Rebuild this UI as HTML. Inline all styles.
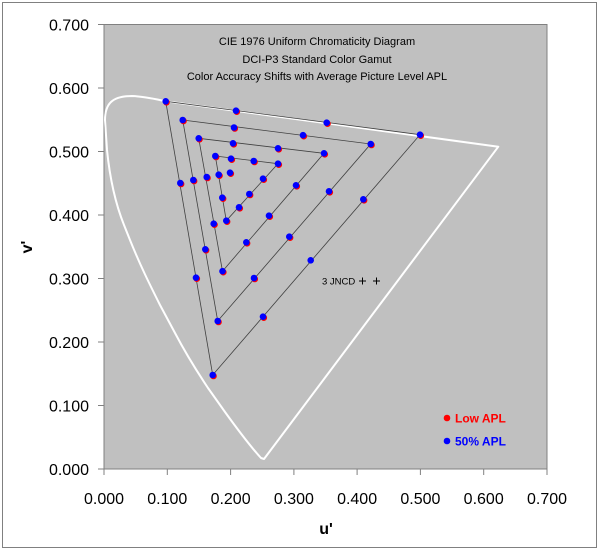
<!DOCTYPE html>
<html><head><meta charset="utf-8"><style>
html,body{margin:0;padding:0;background:#fff;}
svg{display:block;font-family:"Liberation Sans",Arial,sans-serif;}
</style></head><body>
<svg width="600" height="551" viewBox="0 0 600 551" xmlns="http://www.w3.org/2000/svg">
<rect x="0" y="0" width="600" height="551" fill="#fff"/>
<rect x="2.5" y="2.5" width="594" height="545" fill="none" stroke="#808080" stroke-width="1"/>
<rect x="104" y="24.5" width="443" height="444.5" fill="#c0c0c0" stroke="#808080" stroke-width="1"/>
<path d="M264,459 L498.3,146.7 L165.7,101.3 C155,99 145,96.5 132,96 C112,96 105,104 105,120 L107,150 C110,180 116,205 124,225 L130,240 C140,265 150,285 160,305 L175,333 C185,352 196,370 208,388 L225,412 C238,430 250,446 261,458 Z" fill="none" stroke="#fff" stroke-width="2" stroke-linejoin="round"/>
<g fill="none" stroke="#404040" stroke-width="0.8">
<polygon points="165.7,101.3 420,134.7 212.7,375"/>
<polygon points="182.7,120 370.7,144 217.7,321"/>
<polygon points="198.7,138.3 324,153.3 222.5,271.2"/>
<polygon points="215.3,156 278,163.7 226.3,220.7"/>
</g>
<g fill="#ff0000" transform="translate(0.8,1)">
<circle cx="165.7" cy="101.3" r="3.3"/><circle cx="420" cy="134.7" r="3.3"/><circle cx="212.7" cy="375" r="3.3"/>
<circle cx="236" cy="110.7" r="3.3"/><circle cx="326.7" cy="122.7" r="3.3"/><circle cx="180.3" cy="183" r="3.3"/><circle cx="196" cy="277.7" r="3.3"/><circle cx="363.3" cy="199.3" r="3.3"/><circle cx="263" cy="316.7" r="3.3"/>
<circle cx="182.7" cy="120" r="3.3"/><circle cx="370.7" cy="144" r="3.3"/><circle cx="217.7" cy="321" r="3.3"/>
<circle cx="234" cy="127.5" r="3.3"/><circle cx="303" cy="135.2" r="3.3"/><circle cx="193.3" cy="180" r="3.3"/><circle cx="205.3" cy="249.3" r="3.3"/><circle cx="329" cy="191.3" r="3.3"/><circle cx="289.3" cy="236.7" r="3.3"/><circle cx="254" cy="278" r="3.3"/>
<circle cx="198.7" cy="138.3" r="3.3"/><circle cx="324" cy="153.3" r="3.3"/><circle cx="222.5" cy="271.2" r="3.3"/>
<circle cx="233" cy="143.3" r="3.3"/><circle cx="278" cy="148.3" r="3.3"/><circle cx="206.7" cy="177" r="3.3"/><circle cx="213.7" cy="223.7" r="3.3"/><circle cx="296" cy="185.3" r="3.3"/><circle cx="269" cy="215.7" r="3.3"/><circle cx="246.3" cy="242.3" r="3.3"/>
<circle cx="215.3" cy="156" r="3.3"/><circle cx="278" cy="163.7" r="3.3"/><circle cx="226.3" cy="220.7" r="3.3"/>
<circle cx="231" cy="158.7" r="3.3"/><circle cx="253.7" cy="161" r="3.3"/><circle cx="218.7" cy="174.7" r="3.3"/><circle cx="222.3" cy="197.7" r="3.3"/><circle cx="263" cy="178.7" r="3.3"/><circle cx="249.3" cy="194" r="3.3"/><circle cx="239" cy="207.3" r="3.3"/>
<circle cx="230" cy="172.7" r="3.3"/>
</g>
<g fill="#0000ff">
<circle cx="165.7" cy="101.3" r="3.3"/><circle cx="420" cy="134.7" r="3.3"/><circle cx="212.7" cy="375" r="3.3"/>
<circle cx="236" cy="110.7" r="3.3"/><circle cx="326.7" cy="122.7" r="3.3"/><circle cx="180.3" cy="183" r="3.3"/><circle cx="196" cy="277.7" r="3.3"/><circle cx="363.3" cy="199.3" r="3.3"/><circle cx="310.7" cy="260.3" r="3.3"/><circle cx="263" cy="316.7" r="3.3"/>
<circle cx="182.7" cy="120" r="3.3"/><circle cx="370.7" cy="144" r="3.3"/><circle cx="217.7" cy="321" r="3.3"/>
<circle cx="234" cy="127.5" r="3.3"/><circle cx="303" cy="135.2" r="3.3"/><circle cx="193.3" cy="180" r="3.3"/><circle cx="205.3" cy="249.3" r="3.3"/><circle cx="329" cy="191.3" r="3.3"/><circle cx="289.3" cy="236.7" r="3.3"/><circle cx="254" cy="278" r="3.3"/>
<circle cx="198.7" cy="138.3" r="3.3"/><circle cx="324" cy="153.3" r="3.3"/><circle cx="222.5" cy="271.2" r="3.3"/>
<circle cx="233" cy="143.3" r="3.3"/><circle cx="278" cy="148.3" r="3.3"/><circle cx="206.7" cy="177" r="3.3"/><circle cx="213.7" cy="223.7" r="3.3"/><circle cx="296" cy="185.3" r="3.3"/><circle cx="269" cy="215.7" r="3.3"/><circle cx="246.3" cy="242.3" r="3.3"/>
<circle cx="215.3" cy="156" r="3.3"/><circle cx="278" cy="163.7" r="3.3"/><circle cx="226.3" cy="220.7" r="3.3"/>
<circle cx="231" cy="158.7" r="3.3"/><circle cx="253.7" cy="161" r="3.3"/><circle cx="218.7" cy="174.7" r="3.3"/><circle cx="222.3" cy="197.7" r="3.3"/><circle cx="263" cy="178.7" r="3.3"/><circle cx="249.3" cy="194" r="3.3"/><circle cx="239" cy="207.3" r="3.3"/>
<circle cx="230" cy="172.7" r="3.3"/>
</g>
<g font-size="11" fill="#000" text-anchor="middle">
<text x="317" y="45">CIE 1976 Uniform Chromaticity Diagram</text>
<text x="317" y="63">DCI-P3 Standard Color Gamut</text>
<text x="317" y="80">Color Accuracy Shifts with Average Picture Level APL</text>
</g>
<text x="322" y="284.5" font-size="9.5" fill="#000">3 JNCD</text>
<g stroke="#000" stroke-width="1">
<line x1="359" y1="281" x2="366" y2="281"/><line x1="362.5" y1="277.5" x2="362.5" y2="284.5"/>
<line x1="373" y1="281" x2="380" y2="281"/><line x1="376.5" y1="277.5" x2="376.5" y2="284.5"/>
</g>
<circle cx="447" cy="418" r="3.3" fill="#ff0000"/>
<text x="455" y="422.5" font-size="12" font-weight="bold" fill="#ff0000">Low APL</text>
<circle cx="447" cy="441" r="3.3" fill="#0000ff"/>
<text x="455" y="445.5" font-size="12" font-weight="bold" fill="#0000ff">50% APL</text>
<g stroke="#808080" stroke-width="1">
<line x1="98" y1="24.5" x2="104" y2="24.5"/><line x1="98" y1="88" x2="104" y2="88"/><line x1="98" y1="151.5" x2="104" y2="151.5"/><line x1="98" y1="215" x2="104" y2="215"/><line x1="98" y1="278.5" x2="104" y2="278.5"/><line x1="98" y1="342" x2="104" y2="342"/><line x1="98" y1="405.5" x2="104" y2="405.5"/><line x1="98" y1="469" x2="104" y2="469"/>
<line x1="104" y1="469" x2="104" y2="475"/><line x1="167.3" y1="469" x2="167.3" y2="475"/><line x1="230.6" y1="469" x2="230.6" y2="475"/><line x1="293.9" y1="469" x2="293.9" y2="475"/><line x1="357.1" y1="469" x2="357.1" y2="475"/><line x1="420.4" y1="469" x2="420.4" y2="475"/><line x1="483.7" y1="469" x2="483.7" y2="475"/><line x1="547" y1="469" x2="547" y2="475"/>
</g>
<g font-size="16" fill="#000" text-anchor="end">
<text x="89" y="30.5">0.700</text><text x="89" y="94">0.600</text><text x="89" y="157.5">0.500</text><text x="89" y="221">0.400</text><text x="89" y="284.5">0.300</text><text x="89" y="348">0.200</text><text x="89" y="411.5">0.100</text><text x="89" y="475">0.000</text>
</g>
<g font-size="16" fill="#000" text-anchor="middle">
<text x="104" y="504">0.000</text><text x="167.3" y="504">0.100</text><text x="230.6" y="504">0.200</text><text x="293.9" y="504">0.300</text><text x="357.1" y="504">0.400</text><text x="420.4" y="504">0.500</text><text x="483.7" y="504">0.600</text><text x="547" y="504">0.700</text>
</g>
<text x="326" y="534" font-size="16" font-weight="bold" text-anchor="middle">u'</text>
<text x="0" y="0" font-size="16" font-weight="bold" text-anchor="middle" transform="translate(32,247) rotate(-90)">v'</text>
</svg>
</body></html>
